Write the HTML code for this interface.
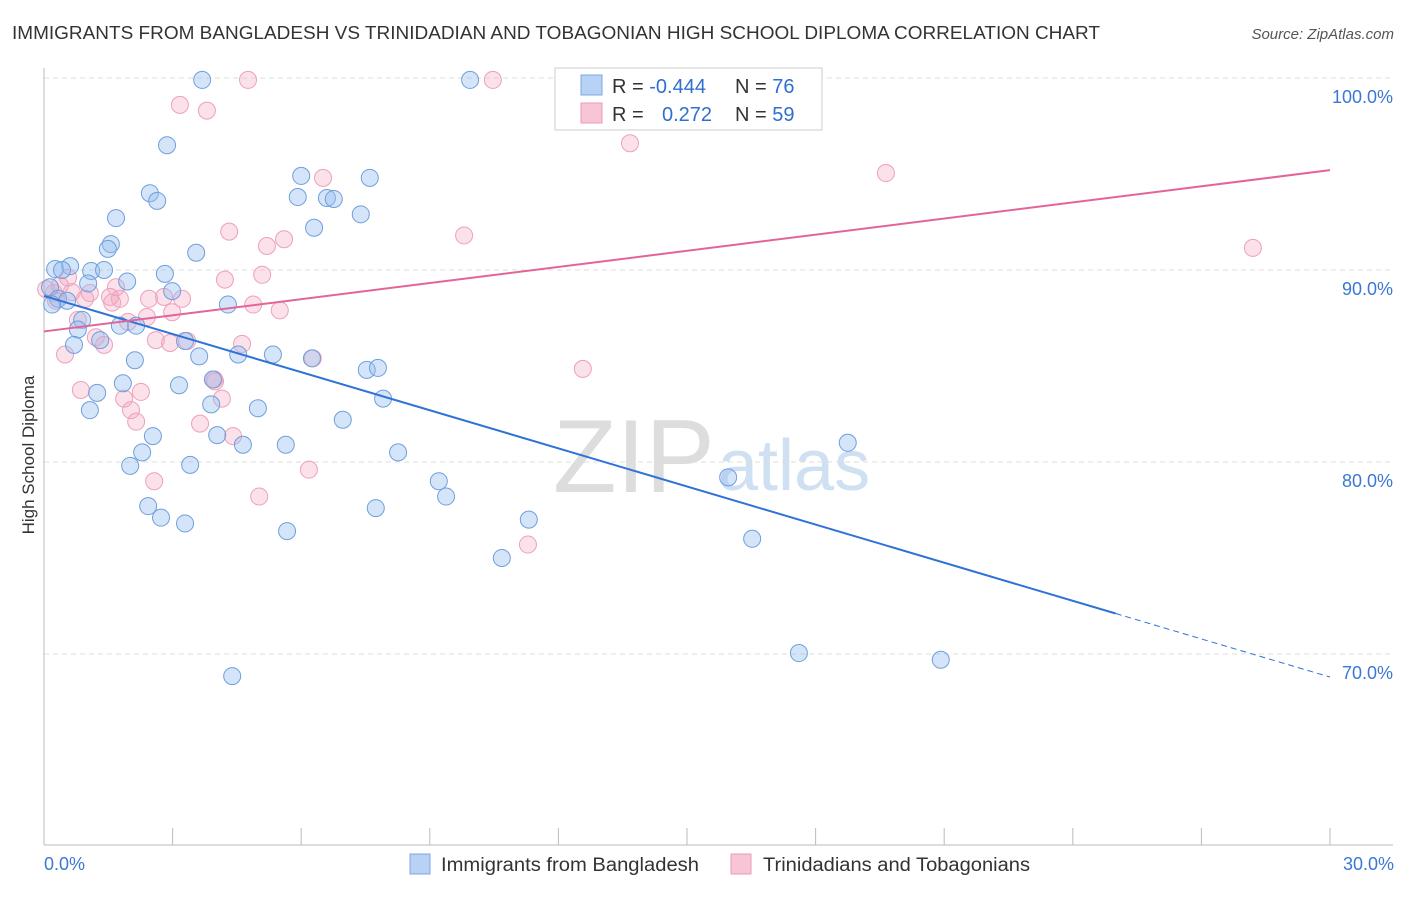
<!DOCTYPE html>
<html><head><meta charset="utf-8"><style>
body{margin:0;background:#fff;font-family:"Liberation Sans",sans-serif;}
svg text{font-family:"Liberation Sans",sans-serif;}
</style></head><body>
<svg id="chart" width="1406" height="892">
<text x="12" y="39" font-size="18" fill="#333" textLength="1088" lengthAdjust="spacingAndGlyphs">IMMIGRANTS FROM BANGLADESH VS TRINIDADIAN AND TOBAGONIAN HIGH SCHOOL DIPLOMA CORRELATION CHART</text>
<text x="1394" y="39" font-size="15" fill="#555" font-style="italic" text-anchor="end">Source: ZipAtlas.com</text>
<text x="553" y="492" font-size="104" fill="#ddd" font-family="Liberation Serif">ZIP</text>
<text x="718" y="490" font-size="72" fill="#cfe0f2">atlas</text>
<text transform="translate(34,455) rotate(-90)" font-size="17" fill="#333" text-anchor="middle">High School Diploma</text>
<g id="grid"></g><g id="marks"></g><g id="lines"></g>
<g>
<rect x="555" y="68" width="267" height="62" fill="#fff" stroke="#ccc"/>
<rect x="581" y="75" width="21" height="20" fill="#b7d2f4" stroke="#7aa8e0"/>
<rect x="581" y="103" width="21" height="20" fill="#f8c5d5" stroke="#ee9ab5"/>
<text x="612" y="93" font-size="20" fill="#333">R = <tspan fill="#2f6fd0">-0.444</tspan><tspan x="735">N = </tspan><tspan fill="#2f6fd0">76</tspan></text>
<text x="612" y="121" font-size="20" fill="#333">R = <tspan x="662" fill="#2f6fd0">0.272</tspan><tspan x="735">N = </tspan><tspan fill="#2f6fd0">59</tspan></text>
</g>
<g>
<rect x="410" y="854" width="20" height="20" fill="#b7d2f4" stroke="#7aa8e0"/>
<text x="441" y="871" font-size="19" fill="#333" textLength="258" lengthAdjust="spacingAndGlyphs">Immigrants from Bangladesh</text>
<rect x="731" y="854" width="20" height="20" fill="#f8c5d5" stroke="#ee9ab5"/>
<text x="763" y="871" font-size="19" fill="#333" textLength="267" lengthAdjust="spacingAndGlyphs">Trinidadians and Tobagonians</text>
</g>
</svg>
<script>
const blueX=[3.69,9.94,2.87,2.47,2.64,1.68,6.0,7.6,5.92,6.6,6.76,7.39,6.3,1.56,1.49,3.55,0.26,0.61,0.42,1.1,1.4,2.82,1.03,1.94,2.99,4.29,0.14,0.33,0.54,0.19,0.89,0.79,1.77,2.15,1.31,0.7,3.29,2.12,3.62,4.53,5.34,6.25,7.53,7.79,1.84,3.15,1.24,7.91,3.94,3.9,4.99,1.07,6.97,2.54,4.04,4.64,5.64,2.29,8.26,2.01,3.41,9.21,9.38,2.43,7.74,2.73,3.29,11.31,5.67,10.68,15.96,18.75,16.52,17.61,20.92,4.39];
const blueY=[99.9,99.9,96.5,94.0,93.6,92.7,94.9,94.8,93.8,93.75,93.7,92.9,92.2,91.35,91.1,90.9,90.05,90.2,90.0,89.95,90.0,89.8,89.3,89.4,88.9,88.2,89.1,88.5,88.4,88.2,87.4,86.9,87.1,87.1,86.35,86.1,86.3,85.3,85.5,85.6,85.6,85.4,84.8,84.9,84.1,84.0,83.6,83.3,84.3,83.0,82.8,82.7,82.2,81.35,81.4,80.9,80.9,80.5,80.5,79.8,79.85,79.0,78.2,77.7,77.6,77.1,76.8,77.0,76.4,75.0,79.2,81.0,76.0,70.05,69.7,68.85];
const pinkX=[4.76,10.47,3.17,3.8,13.67,19.64,6.51,4.32,9.8,5.6,5.2,28.2,5.09,4.22,0.56,0.65,1.07,1.59,1.77,2.45,2.8,3.22,4.88,5.5,2.99,2.4,1.96,0.79,1.21,1.4,2.61,2.94,3.34,4.62,0.49,6.27,3.97,0.86,2.26,1.87,4.15,2.03,2.15,3.64,4.41,6.18,2.57,5.02,11.29,12.57,0.23,0.37,0.05,0.28,1.68,0.96,3.99,1.54];
const pinkY=[99.9,99.9,98.6,98.3,96.6,95.05,94.8,92.0,91.8,91.6,91.25,91.15,89.75,89.5,89.6,88.85,88.8,88.3,88.5,88.5,88.6,88.5,88.2,87.9,87.8,87.55,87.3,87.4,86.5,86.1,86.35,86.2,86.3,86.15,85.6,85.4,84.3,83.75,83.65,83.3,83.3,82.7,82.1,82.0,81.35,79.6,79.0,78.2,75.7,84.85,88.8,89.2,89.0,88.4,89.1,88.5,84.2,88.6];
const yTicks=[100,90,80,70];
const yTickLabels=["100.0%","90.0%","80.0%","70.0%"];
const blueTrend=[88.65,68.8];
const pinkTrend=[86.8,95.2];
const NS="http://www.w3.org/2000/svg";
const X=v=>44+v/30*1286;
const Y=v=>78+(100-v)*19.2;
function mk(t,a,p){const e=document.createElementNS(NS,t);for(const k in a)e.setAttribute(k,a[k]);p.appendChild(e);return e;}
const grid=document.getElementById('grid'),marks=document.getElementById('marks'),lines=document.getElementById('lines');
yTicks.forEach((t,i)=>{
 const l=mk('line',{x1:44,x2:1393,y1:Y(t),y2:Y(t),stroke:'#ddd','stroke-dasharray':'5,4'},grid);
 
 
 const tx=mk('text',{x:1393,y:Y(t)+25,'font-size':18,fill:'#3b78d4','text-anchor':'end'},grid);
 tx.textContent=yTickLabels[i];
 
 
});
mk('line',{x1:44,x2:44,y1:68,y2:845,stroke:'#bbb'},grid);
mk('line',{x1:44,x2:1393,y1:845,y2:845,stroke:'#bbb'},grid);
for(let i=0;i<=10;i++){mk('line',{x1:X(i*3),x2:X(i*3),y1:828,y2:845,stroke:'#bbb'},grid);}
const x0=mk('text',{x:44,y:870,'font-size':18,fill:'#3b78d4'},grid);x0.textContent='0.0%';


const x1=mk('text',{x:1394,y:870,'font-size':18,fill:'#3b78d4','text-anchor':'end'},grid);x1.textContent='30.0%';


pinkX.forEach((v,i)=>{const c=mk('circle',{cx:X(v),cy:Y(pinkY[i]),r:8.5,fill:'rgba(244,170,196,0.35)',stroke:'#eea0ba','stroke-width':1},marks);
 
 });
blueX.forEach((v,i)=>{const c=mk('circle',{cx:X(v),cy:Y(blueY[i]),r:8.5,fill:'rgba(150,190,240,0.4)',stroke:'#6f9fdc','stroke-width':1},marks);
 
 });
const bm=blueTrend[0]+(blueTrend[1]-blueTrend[0])*25/30;
const bl=mk('line',{x1:X(0),y1:Y(blueTrend[0]),x2:X(25),y2:Y(bm),stroke:'#2f72d8','stroke-width':2},lines);


const bd=mk('line',{x1:X(25),y1:Y(bm),x2:X(30),y2:Y(blueTrend[1]),stroke:'#2f72d8','stroke-width':1,'stroke-dasharray':'6,4'},lines);


const pl=mk('line',{x1:X(0),y1:Y(pinkTrend[0]),x2:X(30),y2:Y(pinkTrend[1]),stroke:'#e2659a','stroke-width':2},lines);


</script>
</body></html>
